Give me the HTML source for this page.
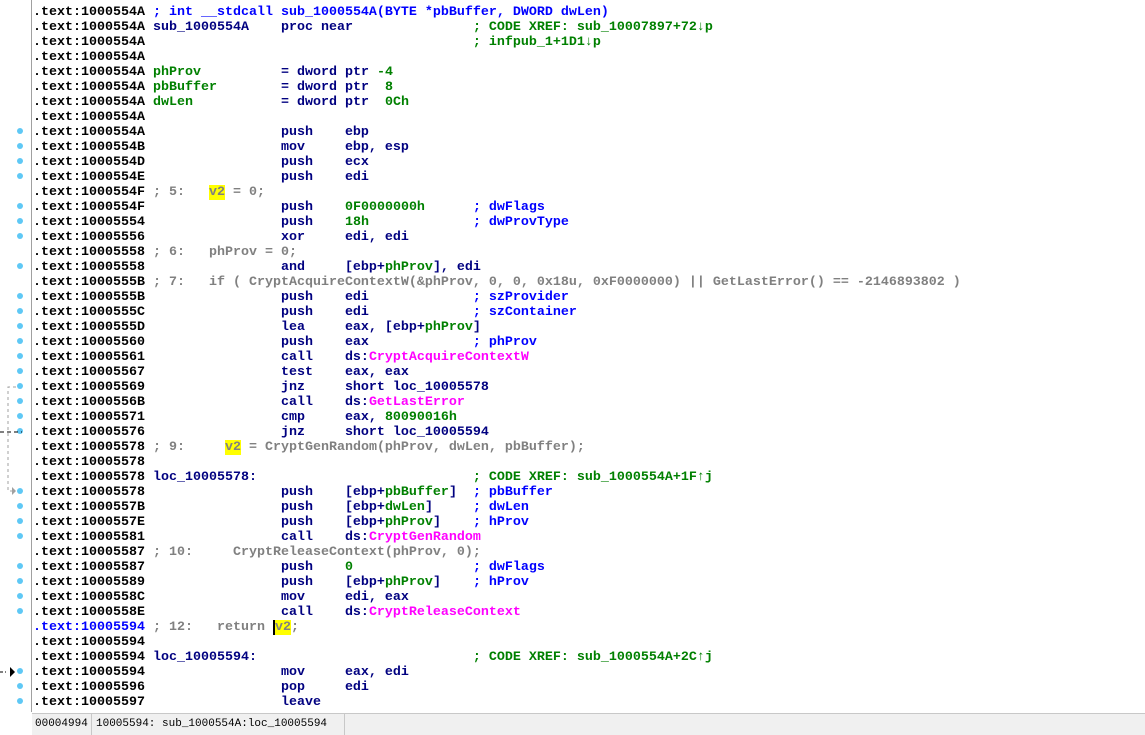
<!DOCTYPE html>
<html><head><meta charset="utf-8"><style>
body{margin:0;width:1145px;height:734px;background:#fff;overflow:hidden;position:relative;font-family:"Liberation Mono",monospace;}
#code{position:absolute;left:33px;top:-10px;font-size:13.33px;font-weight:bold;line-height:15px;white-space:pre;color:#000;}
.n{color:#000080}.g{color:#008000}.m{color:#ff00ff}.c{color:#0000ff}.p{color:#808080}.b{color:#0000ff}
.y{background:#ffff00}
.gut{position:absolute;left:31px;top:0;width:1px;height:712px;background:#a0a0a0}
.dot{position:absolute;left:17px;width:6px;height:6px;border-radius:3px;background:#5fc8f5}
.status{position:absolute;left:32px;top:713px;width:1113px;height:21px;background:#f0f0f0;border-top:1px solid #c8c8c8;font-size:11px;color:#000}
.status span{position:absolute;top:4px}
</style></head><body>
<div class="gut"></div>
<div id="code"><div>.text:1000554A</div><div>.text:1000554A <span class="c">; int __stdcall sub_1000554A(BYTE *pbBuffer, DWORD dwLen)</span></div><div>.text:1000554A <span class="n">sub_1000554A    proc near</span>               <span class="g">; CODE XREF: sub_10007897+72↓p</span></div><div>.text:1000554A                                         <span class="g">; infpub_1+1D1↓p</span></div><div>.text:1000554A</div><div>.text:1000554A <span class="g">phProv</span>          <span class="n">= dword ptr </span><span class="g">-4</span></div><div>.text:1000554A <span class="g">pbBuffer</span>        <span class="n">= dword ptr  </span><span class="g">8</span></div><div>.text:1000554A <span class="g">dwLen</span>           <span class="n">= dword ptr  </span><span class="g">0Ch</span></div><div>.text:1000554A</div><div>.text:1000554A                 <span class="n">push    ebp</span></div><div>.text:1000554B                 <span class="n">mov     ebp, esp</span></div><div>.text:1000554D                 <span class="n">push    ecx</span></div><div>.text:1000554E                 <span class="n">push    edi</span></div><div>.text:1000554F <span class="p">; 5:   <span class="y">v2</span> = 0;</span></div><div>.text:1000554F                 <span class="n">push    </span><span class="g">0F0000000h</span>      <span class="c">; dwFlags</span></div><div>.text:10005554                 <span class="n">push    </span><span class="g">18h</span>             <span class="c">; dwProvType</span></div><div>.text:10005556                 <span class="n">xor     edi, edi</span></div><div>.text:10005558 <span class="p">; 6:   phProv = 0;</span></div><div>.text:10005558                 <span class="n">and     [ebp+</span><span class="g">phProv</span><span class="n">], edi</span></div><div>.text:1000555B <span class="p">; 7:   if ( CryptAcquireContextW(&amp;phProv, 0, 0, 0x18u, 0xF0000000) || GetLastError() == -2146893802 )</span></div><div>.text:1000555B                 <span class="n">push    edi</span>             <span class="c">; szProvider</span></div><div>.text:1000555C                 <span class="n">push    edi</span>             <span class="c">; szContainer</span></div><div>.text:1000555D                 <span class="n">lea     eax, [ebp+</span><span class="g">phProv</span><span class="n">]</span></div><div>.text:10005560                 <span class="n">push    eax</span>             <span class="c">; phProv</span></div><div>.text:10005561                 <span class="n">call    ds:</span><span class="m">CryptAcquireContextW</span></div><div>.text:10005567                 <span class="n">test    eax, eax</span></div><div>.text:10005569                 <span class="n">jnz     short loc_10005578</span></div><div>.text:1000556B                 <span class="n">call    ds:</span><span class="m">GetLastError</span></div><div>.text:10005571                 <span class="n">cmp     eax, </span><span class="g">80090016h</span></div><div>.text:10005576                 <span class="n">jnz     short loc_10005594</span></div><div>.text:10005578 <span class="p">; 9:     <span class="y">v2</span> = CryptGenRandom(phProv, dwLen, pbBuffer);</span></div><div>.text:10005578</div><div>.text:10005578 <span class="n">loc_10005578:</span>                           <span class="g">; CODE XREF: sub_1000554A+1F↑j</span></div><div>.text:10005578                 <span class="n">push    [ebp+</span><span class="g">pbBuffer</span><span class="n">]</span>  <span class="c">; pbBuffer</span></div><div>.text:1000557B                 <span class="n">push    [ebp+</span><span class="g">dwLen</span><span class="n">]</span>     <span class="c">; dwLen</span></div><div>.text:1000557E                 <span class="n">push    [ebp+</span><span class="g">phProv</span><span class="n">]</span>    <span class="c">; hProv</span></div><div>.text:10005581                 <span class="n">call    ds:</span><span class="m">CryptGenRandom</span></div><div>.text:10005587 <span class="p">; 10:     CryptReleaseContext(phProv, 0);</span></div><div>.text:10005587                 <span class="n">push    </span><span class="g">0</span>               <span class="c">; dwFlags</span></div><div>.text:10005589                 <span class="n">push    [ebp+</span><span class="g">phProv</span><span class="n">]</span>    <span class="c">; hProv</span></div><div>.text:1000558C                 <span class="n">mov     edi, eax</span></div><div>.text:1000558E                 <span class="n">call    ds:</span><span class="m">CryptReleaseContext</span></div><div><span class="b">.text:10005594</span> <span class="p">; 12:   return <span class="y" style="border-left:2px solid #000">v2</span>;</span></div><div>.text:10005594</div><div>.text:10005594 <span class="n">loc_10005594:</span>                           <span class="g">; CODE XREF: sub_1000554A+2C↑j</span></div><div>.text:10005594                 <span class="n">mov     eax, edi</span></div><div>.text:10005596                 <span class="n">pop     edi</span></div><div>.text:10005597                 <span class="n">leave</span></div></div>
<div class="dot" style="top:128px"></div><div class="dot" style="top:143px"></div><div class="dot" style="top:158px"></div><div class="dot" style="top:173px"></div>
<div class="dot" style="top:203px"></div><div class="dot" style="top:218px"></div><div class="dot" style="top:233px"></div>
<div class="dot" style="top:263px"></div>
<div class="dot" style="top:293px"></div><div class="dot" style="top:308px"></div><div class="dot" style="top:323px"></div><div class="dot" style="top:338px"></div><div class="dot" style="top:353px"></div><div class="dot" style="top:368px"></div><div class="dot" style="top:383px"></div><div class="dot" style="top:398px"></div><div class="dot" style="top:413px"></div><div class="dot" style="top:428px"></div>
<div class="dot" style="top:488px"></div><div class="dot" style="top:503px"></div><div class="dot" style="top:518px"></div><div class="dot" style="top:533px"></div>
<div class="dot" style="top:563px"></div><div class="dot" style="top:578px"></div><div class="dot" style="top:593px"></div><div class="dot" style="top:608px"></div>
<div class="dot" style="top:668px"></div><div class="dot" style="top:683px"></div><div class="dot" style="top:698px"></div>
<svg style="position:absolute;left:0;top:0" width="31" height="712">
<path d="M16 387 H8 V491 H12" fill="none" stroke="#a0a0a0" stroke-dasharray="3,3"/>
<path d="M12 487 L16 491 L12 495 Z" fill="#a0a0a0"/>
<path d="M0 432 H22" stroke="#000" stroke-dasharray="4,3"/>
<path d="M0 672 H6" stroke="#000" stroke-dasharray="3,2"/>
<path d="M10 667 L15 672 L10 677 Z" fill="#000"/>
</svg>
<div class="status"><span style="left:3px">00004994</span><span style="left:59px;top:0;width:1px;height:21px;background:#c8c8c8"></span><span style="left:64px">10005594: sub_1000554A:loc_10005594</span><span style="left:312px;top:0;width:1px;height:21px;background:#c8c8c8"></span></div>
</body></html>
